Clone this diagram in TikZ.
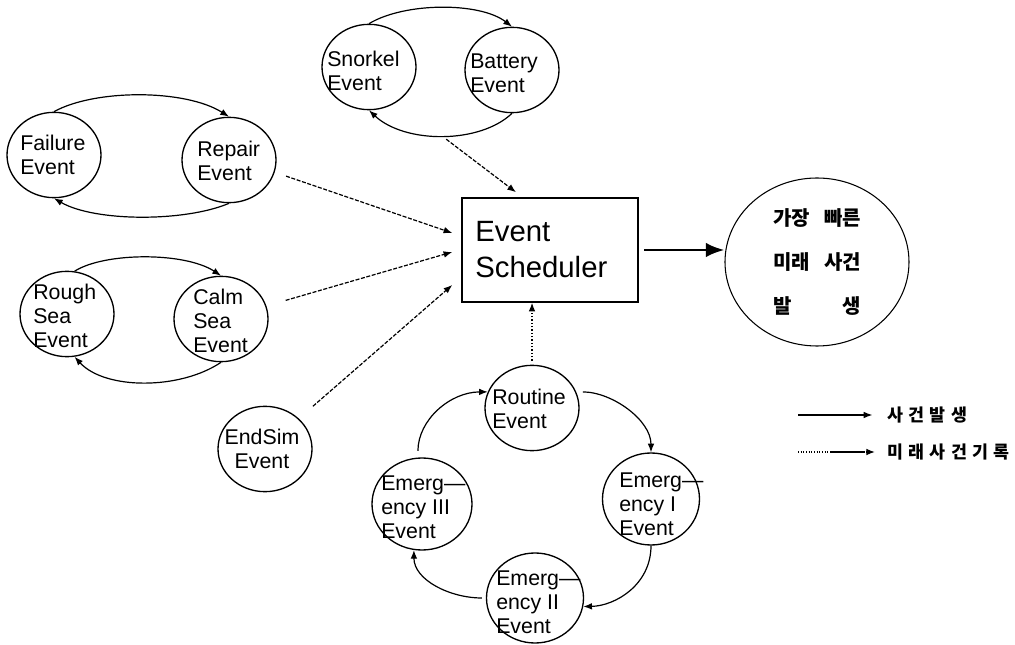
\documentclass[tikz,border=0pt]{standalone}
\usepackage{fontspec}
\setmainfont{Liberation Sans}
\newfontfamily\krfont{Noto Sans CJK KR}
\usetikzlibrary{arrows.meta,calc,shapes.geometric}
\begin{document}
\begin{tikzpicture}[x=0.75pt,y=-0.75pt,
  ev/.style={draw, ellipse, line width=1pt, inner sep=0pt, minimum width=70.5pt, minimum height=64pt},
  evtext/.style={align=left, anchor=west, inner sep=0pt, font=\fontsize{16}{18}\selectfont},
  tip/.style={-{Latex[length=6.5pt,width=5pt]}},
  occ/.style={tip, line width=0.9pt},
  rec/.style={tip, line width=0.9pt, dash pattern=on 3pt off 1.2pt},
  dotrec/.style={tip, line width=0.9pt, dash pattern=on 1pt off 1.5pt},
  legdot/.style={tip, line width=0.9pt, dash pattern=on 0.8pt off 1.2pt on 0.8pt off 1.2pt on 0.8pt off 1.2pt on 0.8pt off 1.2pt on 0.8pt off 1.2pt on 0.8pt off 1.2pt on 0.8pt off 1.2pt on 0.8pt off 1.2pt on 0.8pt off 1.2pt on 0.8pt off 1.2pt on 0.8pt off 1.2pt on 0.8pt off 1.2pt on 26pt off 1.2pt on 0.8pt off 1.2pt on 0.8pt off 1.2pt on 20pt},
  mainarrow/.style={-{Latex[length=14pt,width=11pt]}, line width=2.2pt},
  krtext/.style={font=\krfont\bfseries\fontsize{13}{14}\selectfont, anchor=west, inner sep=0pt}
]
\useasboundingbox (0,0) rectangle (1015,645);

% event circles
\node[ev] (fail) at (54,155) {};
\node[ev] (rep) at (229,160) {};
\node[ev] (rough) at (67,314) {};
\node[ev] (calm) at (221,319) {};
\node[ev] (snork) at (369,67) {};
\node[ev] (bat) at (512,70) {};
\node[ev] (routine) at (532,408) {};
\node[ev] (endsim) at (265,449) {};
\node[ev, minimum width=75pt, minimum height=69pt] (e3) at (422,504) {};
\node[ev, minimum width=72.75pt, minimum height=69pt] (e1) at (651,499) {};
\node[ev, minimum width=72.75pt, minimum height=67.5pt] (e2) at (535,598) {};

% texts
\node[evtext] (failt) at (20,155) {Failure\\Event};
\node[evtext] (rept) at (197,161) {Repair\\Event};
\node[evtext] (rought) at (33,316) {Rough\\Sea\\Event};
\node[evtext] (calmt) at (193,321) {Calm\\Sea\\Event};
\node[evtext] (snorkt) at (327,71) {Snorkel\\Event};
\node[evtext] (batt) at (470,73) {Battery\\Event};
\node[evtext] (routinet) at (492,409) {Routine\\Event};
\node[evtext, align=center, anchor=center] (endsimt) at (262,449) {EndSim\\Event};
\node[evtext] (e3t) at (381,507) {Emerg—\\ency III\\Event};
\node[evtext] (e1t) at (619,504) {Emerg—\\ency I\\Event};
\node[evtext] (e2t) at (496,602) {Emerg—\\ency II\\Event};

% scheduler
\node[draw, line width=1.1pt, inner sep=0pt, minimum width=132pt, minimum height=78pt] (sch) at (550,250) {};
\node[align=left, anchor=west, inner sep=0pt, font=\fontsize{22}{27}\selectfont] (scht) at (475,250) {Event\\Scheduler};

% result circle
\node[ev, line width=0.8pt, minimum width=138pt, minimum height=126pt, align=center,
      font=\krfont\bfseries\fontsize{15}{33}\selectfont] (res) at (817,262)
  {\makebox[66pt][s]{가장\hfil 빠른}\\\makebox[66pt][s]{미래\hfil 사건}\\\makebox[66pt][s]{발\hfil 생}};

% pair cycles
\draw[occ] (fail.north) .. controls (95,89) and (185,89) .. (rep.north);
\draw[occ] (rep.south) .. controls (185,222) and (95,222) .. (fail.south);
\draw[occ] (rough.80) .. controls (105,252) and (185,252) .. (calm.north);
\draw[occ] (calm.south) .. controls (180,390) and (105,390) .. (rough.-80);
\draw[occ] (snork.north) .. controls (405,2) and (480,2) .. (bat.north);
\draw[occ] (bat.south) .. controls (480,144) and (405,144) .. (snork.south);
\coordinate (sbmid) at (442,136);

% routine cycle
\draw[occ, shorten <=5pt] (routine.20) .. controls (612,392) and (651,420) .. (e1.north);
\draw[occ] (e1.south) .. controls (651,585) and (615,606) .. (e2.-10);
\draw[occ, shorten <=3pt] (e2.west) .. controls (450,598) and (414,580) .. (e3.-100);
\draw[occ, shorten <=5pt] (e3.95) .. controls (418,420) and (450,392) .. (routine.160);

% records to scheduler
\draw[rec, shorten <=4pt] (sbmid) -- ($(sch.north)+(-34,-5)$);
\draw[rec, shorten <=9pt] (rep.-15) -- ($(sch.west)+(-9,-17)$);
\draw[rec, shorten <=15pt] (calm.16) -- ($(sch.west)+(-9,2)$);
\draw[rec, shorten <=14pt] (endsim.42) -- ($(sch.west)+(-9,35)$);
\draw[dotrec, shorten <=3pt] (routine.north) -- (routine.north |- sch.south);

% main output
\draw[mainarrow, shorten <=4pt] (sch.east) -- (sch.east -| res.west);

% legend
\coordinate (l1s) at (798,415);
\coordinate (l2s) at (798,452);
\node[krtext] (lg1) at (887,415) {\makebox[60pt][s]{사\hfil 건\hfil 발\hfil 생}};
\node[krtext] (lg2) at (887,452) {\makebox[92pt][s]{미\hfil 래\hfil 사\hfil 건\hfil 기\hfil 록}};
\draw[occ, shorten >=11pt] (l1s) -- (lg1.west);
\draw[legdot, shorten >=9pt] (l2s) -- (lg2.west);
\end{tikzpicture}
\end{document}
